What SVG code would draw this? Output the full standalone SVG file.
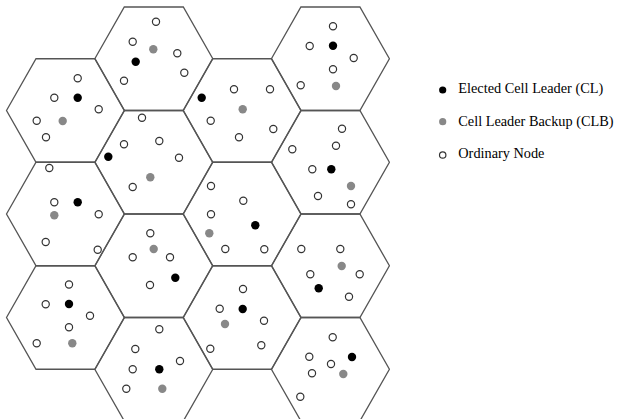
<svg xmlns="http://www.w3.org/2000/svg" xmlns:xlink="http://www.w3.org/1999/xlink" width="618" height="419" viewBox="0 0 618 419">
<style>
.hex{fill:none;stroke:#555;stroke-width:1.3;stroke-linejoin:miter}
.o{fill:#fff;stroke:#333;stroke-width:1.2}
.b{fill:#000}
.g{fill:#888}
.lbl{font-family:"Liberation Serif","Times New Roman",serif;font-size:14.3px;fill:#000}
</style>
<defs>
<polygon id="hexshape" points="-59,0 -29.5,-51.75 29.5,-51.75 59,0 29.5,51.75 -29.5,51.75"/>
</defs>
<rect width="618" height="419" fill="#fff"/>
<g id="cells">
<g id="c0r0">
<use xlink:href="#hexshape" href="#hexshape" class="hex" transform="translate(65.5,110.5)"/>
<circle class="o" cx="77.7" cy="78.3" r="3.6"/><circle class="o" cx="54.3" cy="97.7" r="3.6"/><circle class="b" cx="77.7" cy="97.7" r="4.2"/><circle class="o" cx="98.7" cy="109.3" r="3.6"/><circle class="o" cx="36.7" cy="120.7" r="3.6"/><circle class="g" cx="62.7" cy="121" r="4.2"/><circle class="o" cx="46" cy="137.3" r="3.6"/>
</g>
<g id="c0r1">
<use xlink:href="#hexshape" href="#hexshape" class="hex" transform="translate(65.5,214)"/>
<circle class="o" cx="49.3" cy="168" r="3.6"/><circle class="o" cx="54.3" cy="202.3" r="3.6"/><circle class="b" cx="77.7" cy="202.3" r="4.2"/><circle class="g" cx="54.3" cy="215.3" r="4.2"/><circle class="o" cx="98.7" cy="214.3" r="3.6"/><circle class="o" cx="45.7" cy="242" r="3.6"/><circle class="o" cx="97.7" cy="249.7" r="3.6"/>
</g>
<g id="c0r2">
<use xlink:href="#hexshape" href="#hexshape" class="hex" transform="translate(65.5,317.5)"/>
<circle class="o" cx="69" cy="284.5" r="3.6"/><circle class="o" cx="45.7" cy="304.3" r="3.6"/><circle class="b" cx="69" cy="304" r="4.2"/><circle class="o" cx="90" cy="315.7" r="3.6"/><circle class="o" cx="69" cy="327.3" r="3.6"/><circle class="o" cx="36.7" cy="343.3" r="3.6"/><circle class="g" cx="72.3" cy="343.3" r="4.2"/>
</g>
<g id="c1r0">
<use xlink:href="#hexshape" href="#hexshape" class="hex" transform="translate(153.8,58.75)"/>
<circle class="o" cx="156" cy="21.7" r="3.6"/><circle class="o" cx="132.7" cy="41.7" r="3.6"/><circle class="g" cx="153.3" cy="49.3" r="4.2"/><circle class="o" cx="177.3" cy="53.3" r="3.6"/><circle class="b" cx="135.7" cy="61.7" r="4.2"/><circle class="o" cx="184.3" cy="72.7" r="3.6"/><circle class="o" cx="124" cy="80.7" r="3.6"/>
</g>
<g id="c1r1">
<use xlink:href="#hexshape" href="#hexshape" class="hex" transform="translate(153.8,162.25)"/>
<circle class="o" cx="142" cy="117.7" r="3.6"/><circle class="o" cx="124" cy="144.3" r="3.6"/><circle class="o" cx="159.3" cy="141" r="3.6"/><circle class="b" cx="108.3" cy="156.7" r="4.2"/><circle class="o" cx="179" cy="157.7" r="3.6"/><circle class="g" cx="150.3" cy="177.3" r="4.2"/><circle class="o" cx="132.7" cy="187" r="3.6"/>
</g>
<g id="c1r2">
<use xlink:href="#hexshape" href="#hexshape" class="hex" transform="translate(153.8,265.75)"/>
<circle class="o" cx="150.3" cy="233.3" r="3.6"/><circle class="g" cx="153.7" cy="249" r="4.2"/><circle class="o" cx="132.7" cy="257.3" r="3.6"/><circle class="o" cx="170" cy="257.3" r="3.6"/><circle class="b" cx="175.3" cy="277.7" r="4.2"/><circle class="o" cx="150" cy="285" r="3.6"/>
</g>
<g id="c1r3">
<use xlink:href="#hexshape" href="#hexshape" class="hex" transform="translate(153.8,369.25)"/>
<circle class="o" cx="159.3" cy="329.3" r="3.6"/><circle class="o" cx="135.3" cy="349" r="3.6"/><circle class="o" cx="180" cy="361" r="3.6"/><circle class="o" cx="132.7" cy="369.3" r="3.6"/><circle class="b" cx="159.3" cy="369.3" r="4.2"/><circle class="o" cx="126.3" cy="388.7" r="3.6"/><circle class="g" cx="162.3" cy="388.7" r="4.2"/>
</g>
<g id="c2r0">
<use xlink:href="#hexshape" href="#hexshape" class="hex" transform="translate(242.1,110.5)"/>
<circle class="o" cx="234" cy="89.3" r="3.6"/><circle class="o" cx="270" cy="89.3" r="3.6"/><circle class="b" cx="201.7" cy="97.7" r="4.2"/><circle class="g" cx="242.7" cy="109.3" r="4.2"/><circle class="o" cx="210.7" cy="120.7" r="3.6"/><circle class="o" cx="273.3" cy="129" r="3.6"/><circle class="o" cx="239" cy="137.3" r="3.6"/>
</g>
<g id="c2r1">
<use xlink:href="#hexshape" href="#hexshape" class="hex" transform="translate(242.1,214)"/>
<circle class="o" cx="211" cy="186" r="3.6"/><circle class="o" cx="243.3" cy="200.7" r="3.6"/><circle class="o" cx="211" cy="214.3" r="3.6"/><circle class="b" cx="255.3" cy="225.3" r="4.2"/><circle class="g" cx="209.3" cy="233.3" r="4.2"/><circle class="o" cx="225.3" cy="249" r="3.6"/><circle class="o" cx="264.3" cy="249.3" r="3.6"/>
</g>
<g id="c2r2">
<use xlink:href="#hexshape" href="#hexshape" class="hex" transform="translate(242.1,317.5)"/>
<circle class="o" cx="243" cy="289" r="3.6"/><circle class="o" cx="219.7" cy="308.7" r="3.6"/><circle class="b" cx="242.7" cy="309" r="4.2"/><circle class="o" cx="264" cy="320.7" r="3.6"/><circle class="g" cx="225" cy="324" r="4.2"/><circle class="o" cx="210.3" cy="348.7" r="3.6"/><circle class="o" cx="261.3" cy="345.3" r="3.6"/>
</g>
<g id="c3r0">
<use xlink:href="#hexshape" href="#hexshape" class="hex" transform="translate(330.4,58.75)"/>
<circle class="o" cx="333" cy="26.3" r="3.6"/><circle class="o" cx="309.7" cy="46" r="3.6"/><circle class="b" cx="333" cy="45.7" r="4.2"/><circle class="o" cx="353.7" cy="58" r="3.6"/><circle class="o" cx="333" cy="69.3" r="3.6"/><circle class="o" cx="300.7" cy="85.3" r="3.6"/><circle class="g" cx="336" cy="86" r="4.2"/>
</g>
<g id="c3r1">
<use xlink:href="#hexshape" href="#hexshape" class="hex" transform="translate(330.4,162.25)"/>
<circle class="o" cx="342" cy="128.7" r="3.6"/><circle class="o" cx="336" cy="145.7" r="3.6"/><circle class="o" cx="292.3" cy="149.3" r="3.6"/><circle class="o" cx="312.3" cy="169.3" r="3.6"/><circle class="b" cx="331.3" cy="169.3" r="4.2"/><circle class="g" cx="351" cy="186" r="4.2"/><circle class="o" cx="318" cy="196" r="3.6"/><circle class="o" cx="351" cy="204.3" r="3.6"/>
</g>
<g id="c3r2">
<use xlink:href="#hexshape" href="#hexshape" class="hex" transform="translate(330.4,265.75)"/>
<circle class="o" cx="301.3" cy="249" r="3.6"/><circle class="o" cx="340.3" cy="249" r="3.6"/><circle class="g" cx="341.7" cy="266" r="4.2"/><circle class="o" cx="310.3" cy="274.3" r="3.6"/><circle class="o" cx="359.7" cy="274.3" r="3.6"/><circle class="b" cx="318.7" cy="288.3" r="4.2"/><circle class="o" cx="349" cy="296.7" r="3.6"/>
</g>
<g id="c3r3">
<use xlink:href="#hexshape" href="#hexshape" class="hex" transform="translate(330.4,369.25)"/>
<circle class="o" cx="332.7" cy="337.3" r="3.6"/><circle class="o" cx="309.3" cy="356.7" r="3.6"/><circle class="b" cx="352" cy="357" r="4.2"/><circle class="o" cx="331" cy="364" r="3.6"/><circle class="o" cx="312" cy="373.3" r="3.6"/><circle class="g" cx="343.3" cy="374" r="4.2"/><circle class="o" cx="300.3" cy="396.7" r="3.6"/>
</g>
</g>
<g id="connectors"></g>
<g id="legend">
<g id="legend-cl"><circle class="b" cx="442.7" cy="90" r="3.6"/><text class="lbl" x="458.3" y="93.3">Elected Cell Leader (CL)</text></g>
<g id="legend-clb"><circle class="g" cx="442.7" cy="121.7" r="3.6"/><text class="lbl" x="458.3" y="125.7">Cell Leader Backup (CLB)</text></g>
<g id="legend-on"><circle class="o" cx="442.7" cy="155" r="3.2"/><text class="lbl" x="458.3" y="158.3">Ordinary Node</text></g>
</g>
</svg>
